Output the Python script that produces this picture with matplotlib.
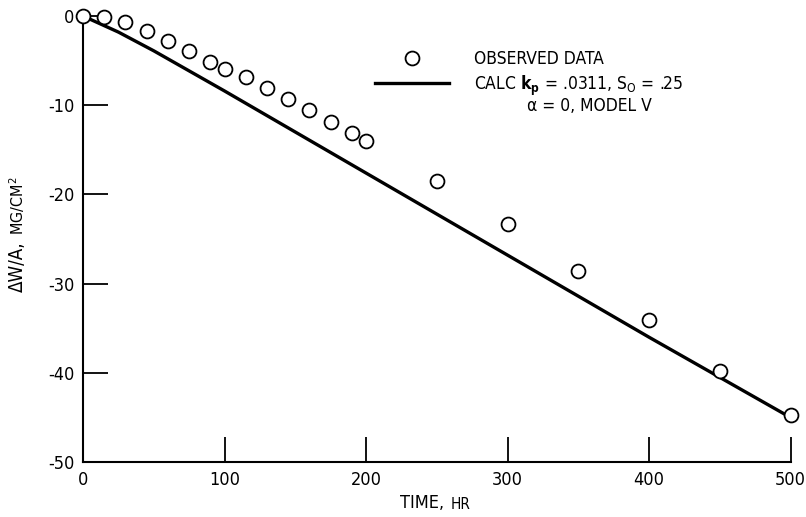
import matplotlib.pyplot as plt

plt.rcParams['font.family'] = ['DejaVu Sans']
plt.rcParams['font.stretch'] = 'condensed'
plt.rcParams['axes.unicode_minus'] = False
plt.rcParams['mathtext.fontset'] = 'dejavusans'

# observed weight change, mg/cm^2
obs_time = [0, 15, 30, 45, 60, 75, 90, 100, 115, 130, 145, 160, 175, 190, 200,
            250, 300, 350, 400, 450, 500]
obs_dw = [0, -0.1, -0.7, -1.7, -2.8, -3.9, -5.2, -5.9, -6.8, -8.1, -9.3, -10.5,
          -11.9, -13.1, -14.0, -18.5, -23.3, -28.6, -34.1, -39.8, -44.7]

# calculated curve (model V)
calc_time = [0, 25, 50, 100, 150, 200, 250, 300, 350, 400, 450, 500]
calc_dw = [0, -1.8, -3.9, -8.4, -13.0, -17.6, -22.2, -26.8, -31.4, -36.0, -40.5, -45.0]

fig = plt.figure(figsize=(8.06, 5.17), dpi=100)
ax = fig.add_axes([0.103, 0.106, 0.878, 0.863])

ax.plot(obs_time, obs_dw, 'o', ms=10, mfc='white', mec='black', mew=1.3,
        clip_on=False, zorder=3, label='OBSERVED DATA')
ax.plot(calc_time, calc_dw, '-', color='black', lw=2.4, clip_on=False,
        label='CALC $\\mathbf{k_p}$ = .0311, S$_\\mathrm{O}$ = .25')

ax.set_xlim(0, 500)
ax.set_ylim(-50, 0)
ax.set_xticks([0, 100, 200, 300, 400, 500])
ax.set_yticks([0, -10, -20, -30, -40, -50])
ax.tick_params(direction='in', length=18, width=1.3, labelsize=13, pad=6)
ax.spines['top'].set_visible(False)
ax.spines['right'].set_visible(False)
for s in ['left', 'bottom']:
    ax.spines[s].set_linewidth(1.5)

ax.legend(loc='upper left', bbox_to_anchor=(0.40, 0.943), frameon=False,
          fontsize=12.5, handlelength=4.3, handletextpad=1.4,
          labelspacing=0.3, borderpad=0)
ax.text(0.628, 0.798, '\u03b1 = 0, MODEL V', transform=ax.transAxes,
        fontsize=12.5, ha='left', va='center')

# axis labels with small-caps units
t1 = fig.text(0.496, 0.017, 'TIME,', fontsize=13, ha='left', va='baseline')
ax.annotate('HR', xy=(1, 0), xycoords=t1, xytext=(5, 0), textcoords='offset points',
            fontsize=11, ha='left', va='bottom')
t2 = fig.text(0.01, 0.435, '\u0394W/A,', fontsize=13.5, rotation=90,
              ha='left', va='bottom')
ax.annotate('MG/CM$^2$', xy=(0.5, 1), xycoords=t2, xytext=(0, 5),
            textcoords='offset points', fontsize=11.5, rotation=90,
            ha='center', va='bottom')

fig.savefig('out.png', dpi=100)
